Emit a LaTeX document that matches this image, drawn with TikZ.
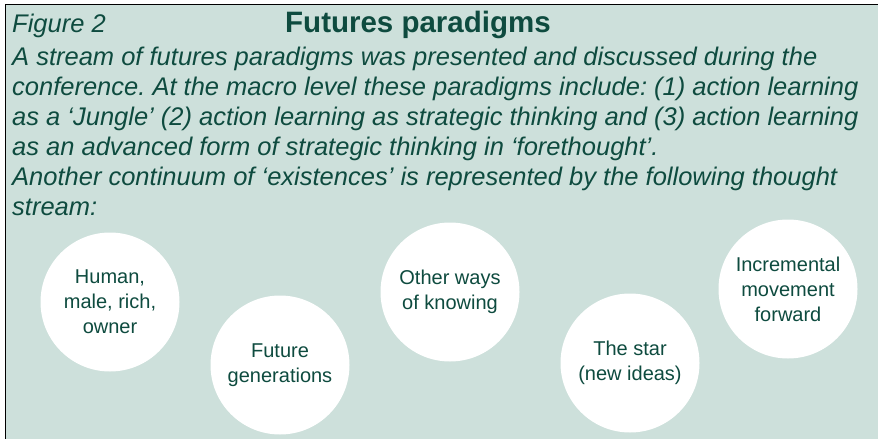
\documentclass[tikz,border=0pt]{standalone}
\usepackage{fontspec}
\setmainfont{Liberation Sans}
\usepackage{tikz}
\usetikzlibrary{positioning}
\definecolor{paneBg}{HTML}{CDE0DB}
\definecolor{darkGreen}{HTML}{0E4B3F}
\frenchspacing

\begin{document}
\begin{tikzpicture}[
x=1pt, y=-1pt,
BodyLine/.style={anchor=base west,inner sep=0pt,text=darkGreen,font=\fontsize{25.5}{30}\selectfont\itshape},
TitleLine/.style={anchor=base,inner sep=0pt,text=darkGreen,font=\fontsize{29.5}{32}\selectfont\bfseries},
Bubble/.style={circle,fill=white,minimum size=139pt,inner sep=0pt,align=center,text=darkGreen,font=\fontsize{20}{25}\selectfont}
]
\useasboundingbox (0,0) rectangle (878,439);

% panel
\fill[paneBg] (5,4) rectangle (878,439);
\draw[black] (878,4) -- (5,4) -- (5,439);

% heading and text
\node[BodyLine] (fig) at (12,32) {Figure 2};
\node[TitleLine] (title) at (418,32) {Futures paradigms};

\node[BodyLine] (l1) at (12,65) {A stream of futures paradigms was presented and discussed during the};
\node[BodyLine] (l2) at (12,95) {conference. At the macro level these paradigms include: (1) action learning};
\node[BodyLine] (l3) at (12,125) {as a ‘Jungle’ (2) action learning as strategic thinking and (3) action learning};
\node[BodyLine] (l4) at (12,155) {as an advanced form of strategic thinking in ‘forethought’.};
\node[BodyLine] (l5) at (12,185) {Another continuum of ‘existences’ is represented by the following thought};
\node[BodyLine] (l6) at (12,215) {stream:};

% thought stream
\node[Bubble] (human) at (110,302) {Human,\\male, rich,\\owner};
\node[Bubble] (future) at (280,365) {Future\\generations};
\node[Bubble] (other) at (450,292) {Other ways\\of knowing};
\node[Bubble] (star) at (630,363) {The star\\(new ideas)};
\node[Bubble] (incr) at (788,289) {Incremental\\movement\\forward};

\end{tikzpicture}
\end{document}
